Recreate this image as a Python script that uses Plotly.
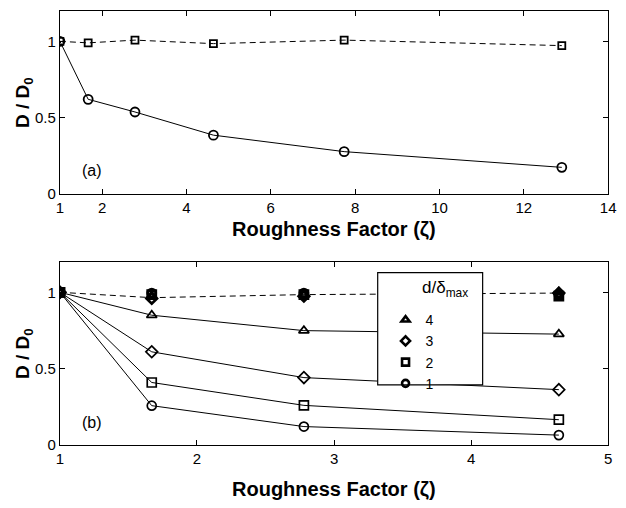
import plotly.graph_objects as go

# ---- data ----
zeta_a = [1.0, 1.67, 2.78, 4.64, 7.74, 12.9]
a_circle = [1.0, 0.62, 0.537, 0.385, 0.277, 0.174]
a_square = [1.0, 0.99, 1.008, 0.985, 1.008, 0.972]

zeta_b = [1.0, 1.67, 2.78, 4.64]
b_d4 = [1.0, 0.85, 0.749, 0.726]
b_d3 = [1.0, 0.61, 0.441, 0.362]
b_d2 = [1.0, 0.409, 0.259, 0.165]
b_d1 = [1.0, 0.257, 0.12, 0.064]
# reference (dashed) values near 1
ref_line = [1.0, 0.965, 0.985, 0.995]
ref_d4 = [1.0, 0.975, 0.985, 1.0]
ref_d3 = [1.0, 0.96, 0.975, 0.995]
ref_d2 = [1.0, 0.985, 0.985, 0.975]
ref_d1 = [1.0, 0.995, 0.995, 0.985]

legend_labels = ["4", "3", "2", "1"]
symbols = ["triangle-up-open", "diamond-open", "square-open", "circle-open"]

x_ticks_a = [1, 2, 4, 6, 8, 10, 12, 14]
x_ticks_b = [1, 2, 3, 4, 5]
y_ticks = [0, 0.5, 1]
y_ticklabels = ["0", "0.5", "1"]

W, H = 626, 508
FONT = "Liberation Sans, Arial, Helvetica, sans-serif"

def px_x(p):
    return p / W

def px_y(p):
    return (H - p) / H

fig = go.Figure()

blk = "black"

# top panel
fig.add_trace(go.Scatter(x=zeta_a, y=a_square, mode="lines+markers", xaxis="x", yaxis="y",
                         line=dict(color=blk, width=1, dash="6px,4px"),
                         marker=dict(symbol="square-open", size=7, color=blk, line=dict(color=blk, width=1.8)),
                         showlegend=False))
fig.add_trace(go.Scatter(x=zeta_a, y=a_circle, mode="lines+markers", xaxis="x", yaxis="y",
                         line=dict(color=blk, width=1),
                         marker=dict(symbol="circle-open", size=9, color=blk, line=dict(color=blk, width=1.8)),
                         showlegend=False))

# bottom panel dashed reference
fig.add_trace(go.Scatter(x=zeta_b, y=ref_line, mode="lines", xaxis="x2", yaxis="y2",
                         line=dict(color=blk, width=1, dash="6px,4px"), showlegend=False))
for vals, sym in zip([ref_d4, ref_d3, ref_d2, ref_d1], symbols):
    fig.add_trace(go.Scatter(x=zeta_b, y=vals, mode="markers", xaxis="x2", yaxis="y2",
                             marker=dict(symbol=sym, size=8, color=blk, line=dict(color=blk, width=2.8)),
                             showlegend=False))

for vals, sym in zip([b_d4, b_d3, b_d2, b_d1], symbols):
    fig.add_trace(go.Scatter(x=zeta_b, y=vals, mode="lines+markers", xaxis="x2", yaxis="y2",
                             line=dict(color=blk, width=1),
                             marker=dict(symbol=sym, size=9, color=blk, line=dict(color=blk, width=1.7)),
                             showlegend=False))

# legend-only entries
for lab, sym in zip(legend_labels, symbols):
    fig.add_trace(go.Scatter(x=[None], y=[None], mode="markers", xaxis="x2", yaxis="y2",
                             name=lab,
                             marker=dict(symbol=sym, size=7, color=blk, line=dict(color=blk, width=2.6)),
                             showlegend=True))

axis_common = dict(showline=True, linecolor=blk, linewidth=1.3, mirror="ticks", ticks="inside",
                   ticklen=5, tickwidth=1, tickcolor=blk, showgrid=False, zeroline=False,
                   tickfont=dict(family=FONT, size=15, color=blk))

fig.update_layout(
    width=W, height=H,
    margin=dict(l=0, r=0, t=0, b=0),
    paper_bgcolor="white", plot_bgcolor="white",
    font=dict(family=FONT, color=blk),
    xaxis=dict(domain=[px_x(57), px_x(616)], range=[1, 14], anchor="y",
               tickvals=x_ticks_a, **axis_common),
    yaxis=dict(domain=[px_y(197), px_y(11)], range=[0, 1.2], anchor="x",
               tickvals=y_ticks, ticktext=y_ticklabels, **axis_common),
    xaxis2=dict(domain=[px_x(57), px_x(616)], range=[1, 5], anchor="y2",
                tickvals=x_ticks_b, **axis_common),
    yaxis2=dict(domain=[px_y(452), px_y(266)], range=[0, 1.2], anchor="x2",
                tickvals=y_ticks, ticktext=y_ticklabels, **axis_common),
    legend=dict(x=px_x(389), y=px_y(309), xanchor="left", yanchor="top",
                bgcolor="rgba(0,0,0,0)", borderwidth=0,
                font=dict(family=FONT, size=14, color=blk),
                tracegroupgap=0),
    shapes=[dict(type="rect", xref="paper", yref="paper",
                 x0=px_x(381), x1=px_x(488), y0=px_y(391), y1=px_y(277),
                 fillcolor="white", line=dict(color=blk, width=1.2), layer="above")],
)

annotations = [
    dict(text="<b>Roughness Factor (ζ)</b>", x=px_x(336.5), y=px_y(233), xref="paper", yref="paper",
         showarrow=False, xanchor="center", yanchor="middle", font=dict(family=FONT, size=20, color=blk)),
    dict(text="<b>Roughness Factor (ζ)</b>", x=px_x(336.5), y=px_y(497), xref="paper", yref="paper",
         showarrow=False, xanchor="center", yanchor="middle", font=dict(family=FONT, size=20, color=blk)),
    dict(text="<b>D / D<sub>0</sub></b>", x=px_x(21), y=px_y(104), xref="paper", yref="paper",
         textangle=-90, showarrow=False, xanchor="center", yanchor="middle", font=dict(family=FONT, size=19, color=blk)),
    dict(text="<b>D / D<sub>0</sub></b>", x=px_x(21), y=px_y(359), xref="paper", yref="paper",
         textangle=-90, showarrow=False, xanchor="center", yanchor="middle", font=dict(family=FONT, size=19, color=blk)),
    dict(text="(a)", x=px_x(77), y=px_y(173), xref="paper", yref="paper",
         showarrow=False, xanchor="left", yanchor="middle", font=dict(family=FONT, size=16, color=blk)),
    dict(text="(b)", x=px_x(77), y=px_y(429), xref="paper", yref="paper",
         showarrow=False, xanchor="left", yanchor="middle", font=dict(family=FONT, size=16, color=blk)),
    dict(text="d/δ<sub>max</sub>", x=px_x(424), y=px_y(294), xref="paper", yref="paper",
         showarrow=False, xanchor="left", yanchor="middle", font=dict(family=FONT, size=17, color=blk)),
]
fig.update_layout(annotations=annotations)

fig.write_html("out.html", config={"displayModeBar": False, "responsive": False},
               post_script="document.body.style.margin='0';"
                           "document.body.style.overflow='hidden';"
                           "document.documentElement.style.overflow='hidden';")
